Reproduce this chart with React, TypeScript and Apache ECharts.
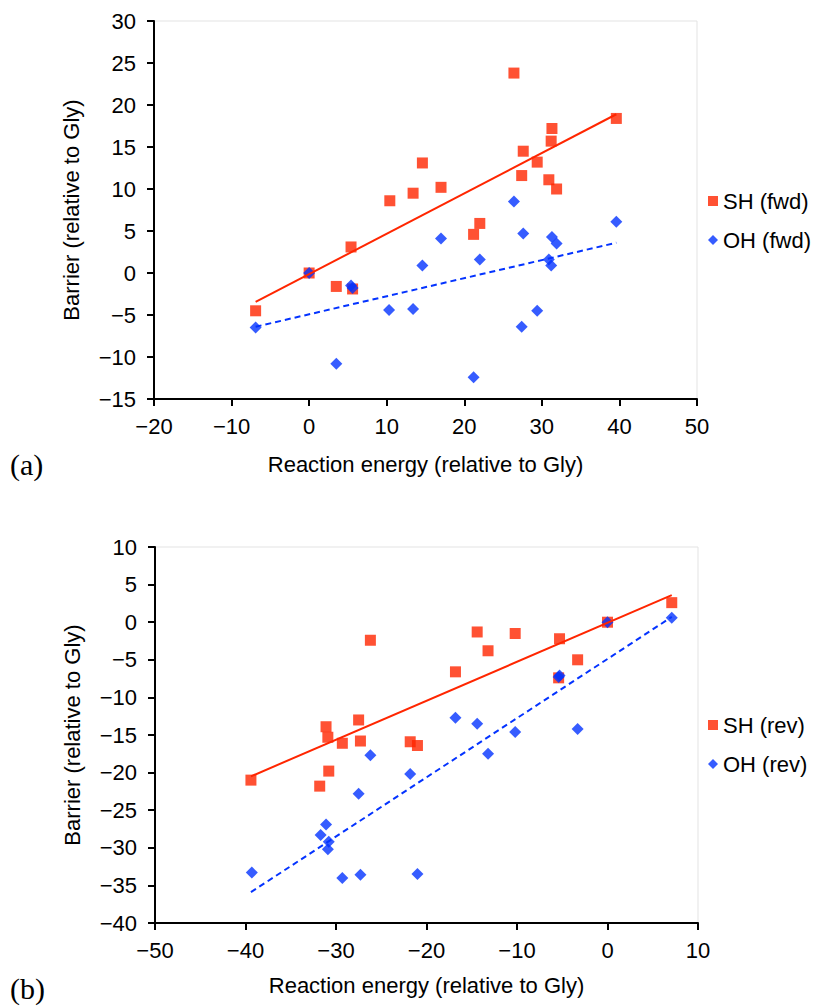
import React, { useEffect, useRef } from "react";
import * as echarts from "echarts";

// ---- Panel (a): forward ----
const shFwdX = [-6.9, 0, 3.5, 5.4, 5.6, 10.4, 13.4, 14.6, 17.0, 21.2, 22.0, 26.4, 27.4, 27.6, 29.4, 30.9, 31.2, 31.3, 31.9, 39.6];
const shFwdY = [-4.5, 0, -1.6, 3.1, -1.9, 8.6, 9.5, 13.1, 10.2, 4.6, 5.9, 23.8, 11.6, 14.5, 13.2, 11.1, 15.7, 17.2, 10.0, 18.4];
const ohFwdX = [-6.9, 0, 3.5, 5.4, 5.6, 10.3, 13.4, 14.6, 17.0, 21.2, 22.0, 26.4, 27.4, 27.6, 29.4, 30.9, 31.2, 31.3, 31.9, 39.6];
const ohFwdY = [-6.5, 0, -10.8, -1.5, -1.8, -4.4, -4.3, 0.9, 4.1, -12.4, 1.6, 8.5, -6.4, 4.7, -4.5, 1.6, 0.9, 4.3, 3.5, 6.1];
const shFwdTrendX = [-6.9, 39.6];
const shFwdTrendY = [-3.45, 18.9];
const ohFwdTrendX = [-6.9, 39.6];
const ohFwdTrendY = [-6.4, 3.6];

// ---- Panel (b): reverse ----
const shRevX = [-39.4, -31.8, -31.1, -30.9, -30.8, -29.3, -27.5, -27.3, -26.2, -21.8, -21.0, -16.8, -14.4, -13.2, -10.2, -5.4, -5.3, -3.3, 0, 7.1];
const shRevY = [-21.0, -21.8, -13.9, -15.3, -19.8, -16.1, -13.0, -15.8, -2.4, -15.9, -16.4, -6.6, -1.3, -3.8, -1.5, -7.4, -2.2, -5.0, 0, 2.6];
const ohRevX = [-39.3, -31.7, -31.1, -30.9, -30.8, -29.3, -27.5, -27.3, -26.2, -21.8, -21.0, -16.8, -14.4, -13.2, -10.2, -5.4, -5.3, -3.3, 0, 7.1];
const ohRevY = [-33.3, -28.3, -26.9, -30.2, -29.2, -34.0, -22.8, -33.6, -17.7, -20.2, -33.5, -12.7, -13.5, -17.5, -14.6, -7.3, -7.1, -14.2, 0, 0.6];
const shRevTrendX = [-39.4, 7.1];
const shRevTrendY = [-20.5, 3.6];
const ohRevTrendX = [-39.4, 7.1];
const ohRevTrendY = [-35.9, 0.7];

const xTitle = "Reaction energy (relative to Gly)";
const yTitle = "Barrier (relative to Gly)";
const seriesNames = ["SH (fwd)", "OH (fwd)", "SH (rev)", "OH (rev)"];

const RED = "#ff2600";
const BLUE = "#0433ff";
const FONT = "Liberation Sans";

const zip = (xs: number[], ys: number[]) => xs.map((x, i) => [x, ys[i]]);
const fmt = (v: number) => String(v).replace("-", "\u2212");

function axisX(gridIndex: number, min: number, max: number, gap: number) {
  return {
    type: "value",
    gridIndex,
    min,
    max,
    interval: 10,
    name: xTitle,
    nameLocation: "middle",
    nameGap: gap,
    nameTextStyle: { fontFamily: FONT, fontSize: 22, color: "#000" },
    axisLine: { show: true, onZero: false, lineStyle: { color: "#000", width: 2 } },
    axisTick: { show: true, length: 7, lineStyle: { color: "#000", width: 2 } },
    axisLabel: { fontFamily: FONT, fontSize: 22, color: "#000", margin: 16, formatter: fmt },
    splitLine: { show: false },
  };
}

function axisY(gridIndex: number, min: number, max: number) {
  return {
    type: "value",
    gridIndex,
    min,
    max,
    interval: 5,
    name: yTitle,
    nameLocation: "middle",
    nameGap: 72,
    nameTextStyle: { fontFamily: FONT, fontSize: 22, color: "#000" },
    axisLine: { show: true, onZero: false, lineStyle: { color: "#000", width: 2 } },
    axisTick: { show: true, length: 7, lineStyle: { color: "#000", width: 2 } },
    axisLabel: { fontFamily: FONT, fontSize: 22, color: "#000", margin: 18, formatter: fmt },
    splitLine: { show: false },
  };
}

function scatter(name: string, idx: number, data: number[][], isSH: boolean) {
  return {
    type: "scatter",
    name,
    xAxisIndex: idx,
    yAxisIndex: idx,
    data,
    symbol: isSH ? "rect" : "diamond",
    symbolSize: isSH ? 11 : 12,
    itemStyle: { color: isSH ? RED : BLUE },
    z: isSH ? 2 : 3,
  };
}

function trend(idx: number, data: number[][], isSH: boolean) {
  return {
    type: "line",
    xAxisIndex: idx,
    yAxisIndex: idx,
    data,
    symbol: "none",
    silent: true,
    lineStyle: { color: isSH ? RED : BLUE, width: 2, type: isSH ? "solid" : [6, 4] },
    z: 4,
  };
}

function legend(top: number, names: string[]) {
  return {
    orient: "vertical",
    left: 703,
    top,
    itemWidth: 10,
    itemHeight: 10,
    itemGap: 17,
    textStyle: { fontFamily: FONT, fontSize: 22, color: "#000", lineHeight: 22 },
    data: [
      { name: names[0], icon: "rect" },
      { name: names[1], icon: "diamond" },
    ],
  };
}

export default function App() {
  const ref = useRef<HTMLDivElement>(null);
  useEffect(() => {
    if (!ref.current) return;
    const chart = echarts.init(ref.current, null, { renderer: "svg" });
    chart.setOption({
      animation: false,
      backgroundColor: "#fff",
      grid: [
        { left: 154, top: 21, width: 543, height: 378, show: true, borderColor: "#e3e3e3", borderWidth: 1 },
        { left: 155, top: 547, width: 543, height: 376, show: true, borderColor: "#e3e3e3", borderWidth: 1 },
      ],
      xAxis: [axisX(0, -20, 50, 54), axisX(1, -50, 10, 51)],
      yAxis: [axisY(0, -15, 30), axisY(1, -40, 10)],
      legend: [legend(185, seriesNames.slice(0, 2)), legend(709, seriesNames.slice(2, 4))],
      series: [
        scatter(seriesNames[0], 0, zip(shFwdX, shFwdY), true),
        scatter(seriesNames[1], 0, zip(ohFwdX, ohFwdY), false),
        trend(0, zip(shFwdTrendX, shFwdTrendY), true),
        trend(0, zip(ohFwdTrendX, ohFwdTrendY), false),
        scatter(seriesNames[2], 1, zip(shRevX, shRevY), true),
        scatter(seriesNames[3], 1, zip(ohRevX, ohRevY), false),
        trend(1, zip(shRevTrendX, shRevTrendY), true),
        trend(1, zip(ohRevTrendX, ohRevTrendY), false),
      ],
      graphic: [
        { type: "text", left: 10, top: 449, style: { text: "(a)", fontFamily: "Liberation Serif", fontSize: 30, fill: "#000" } },
        { type: "text", left: 10, top: 973, style: { text: "(b)", fontFamily: "Liberation Serif", fontSize: 30, fill: "#000" } },
      ],
    });
    return () => chart.dispose();
  }, []);
  return <div ref={ref} style={{ position: "absolute", left: 0, top: 0, width: 817, height: 1008 }} />;
}
